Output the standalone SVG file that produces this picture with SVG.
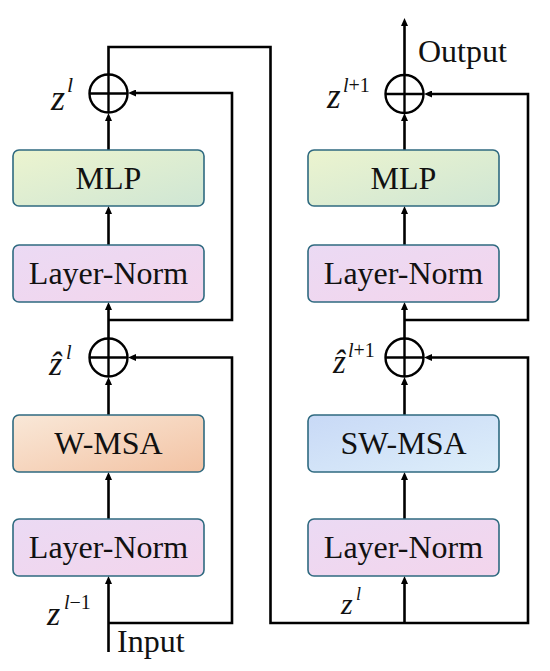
<svg xmlns="http://www.w3.org/2000/svg" width="550" height="671" viewBox="0 0 550 671">
<style>
.box{stroke:#2f6a80;stroke-width:1.6}
.lbl{font-family:"Liberation Serif","Times New Roman",serif;font-size:32px;fill:#111;text-anchor:middle}
.io{font-family:"Liberation Serif","Times New Roman",serif;font-size:32px;fill:#111}
.zi{font-family:"Liberation Serif","DejaVu Serif",serif;font-style:italic;fill:#111}
.ln{fill:none;stroke:#000;stroke-width:2.6;stroke-linejoin:miter}
.arr{fill:none;stroke:#000;stroke-width:2.6;marker-end:url(#ah)}
.sum{fill:none;stroke:#000;stroke-width:2.4}
</style>
<defs>
<marker id="ah" viewBox="0 0 8 7" refX="2" refY="3.5" markerWidth="8" markerHeight="7" markerUnits="userSpaceOnUse" orient="auto">
<path d="M0,0 L8,3.5 L0,7 z" fill="#000"/>
</marker>
<linearGradient id="gMLP" x1="0" y1="0" x2="1" y2="1"><stop offset="0" stop-color="#ecf4cf"/><stop offset="1" stop-color="#cfe6d4"/></linearGradient>
<linearGradient id="gLN" x1="0" y1="0" x2="1" y2="1"><stop offset="0" stop-color="#ebdaf4"/><stop offset="1" stop-color="#f3d5ec"/></linearGradient>
<linearGradient id="gW" x1="0" y1="0" x2="1" y2="1"><stop offset="0" stop-color="#f9e8d8"/><stop offset="1" stop-color="#f3c3a4"/></linearGradient>
<linearGradient id="gSW" x1="0" y1="0" x2="1" y2="1"><stop offset="0" stop-color="#c8d9f6"/><stop offset="1" stop-color="#ddeefa"/></linearGradient>
</defs>

<g id="connectors">
<!-- left column -->
<path class="arr" d="M108.5,652 V582"/>
<path class="arr" d="M108.5,519 V478"/>
<path class="arr" d="M108.5,415 V383"/>
<path class="arr" d="M108.5,338 V308"/>
<path class="arr" d="M108.5,245 V212"/>
<path class="arr" d="M108.5,150 V119"/>
<path class="arr" d="M108.5,623 H232 V357.5 H134"/>
<path class="arr" d="M108.5,320 H232 V93 H134"/>
<path class="arr" d="M108.5,74 V47 H270.5 V623 H528 V357.5 H430"/>
<!-- right column -->
<path class="arr" d="M404.5,623 V582"/>
<path class="arr" d="M404.5,519 V478"/>
<path class="arr" d="M404.5,415 V383"/>
<path class="arr" d="M404.5,338 V308"/>
<path class="arr" d="M404.5,245 V212"/>
<path class="arr" d="M404.5,150 V119"/>
<path class="arr" d="M404.5,320 H528 V94 H430"/>
<path class="arr" d="M404.5,75 V24"/>
</g>

<g id="sum-left-top"><circle class="sum" cx="108.5" cy="93.5" r="19"/><path class="sum" d="M89.5,93.5 H127.5 M108.5,74.5 V112.5"/></g>
<g id="sum-left-mid"><circle class="sum" cx="108.5" cy="357.5" r="19"/><path class="sum" d="M89.5,357.5 H127.5 M108.5,338.5 V376.5"/></g>
<g id="sum-right-top"><circle class="sum" cx="404.5" cy="94" r="19"/><path class="sum" d="M385.5,94 H423.5 M404.5,75 V113"/></g>
<g id="sum-right-mid"><circle class="sum" cx="404.5" cy="357.5" r="19"/><path class="sum" d="M385.5,357.5 H423.5 M404.5,338.5 V376.5"/></g>

<g id="mlp-left"><rect class="box" x="13" y="150" width="191" height="56" rx="6" fill="url(#gMLP)"/><text class="lbl" x="108.5" y="189">MLP</text></g>
<g id="ln2-left"><rect class="box" x="13" y="245" width="191" height="57" rx="6" fill="url(#gLN)"/><text class="lbl" x="108.5" y="284">Layer-Norm</text></g>
<g id="wmsa"><rect class="box" x="13" y="415" width="191" height="57" rx="6" fill="url(#gW)"/><text class="lbl" x="108.5" y="454">W-MSA</text></g>
<g id="ln1-left"><rect class="box" x="13" y="519" width="191" height="57" rx="6" fill="url(#gLN)"/><text class="lbl" x="108.5" y="558">Layer-Norm</text></g>

<g id="mlp-right"><rect class="box" x="308" y="150" width="191" height="56" rx="6" fill="url(#gMLP)"/><text class="lbl" x="403.5" y="189">MLP</text></g>
<g id="ln2-right"><rect class="box" x="308" y="245" width="191" height="57" rx="6" fill="url(#gLN)"/><text class="lbl" x="403.5" y="284">Layer-Norm</text></g>
<g id="swmsa"><rect class="box" x="308" y="415" width="191" height="57" rx="6" fill="url(#gSW)"/><text class="lbl" x="403.5" y="454">SW-MSA</text></g>
<g id="ln1-right"><rect class="box" x="308" y="519" width="191" height="57" rx="6" fill="url(#gLN)"/><text class="lbl" x="403.5" y="558">Layer-Norm</text></g>

<g id="labels">
<text class="io" x="418" y="62">Output</text>
<text class="io" x="117" y="652">Input</text>
<text class="zi" x="51" y="110" font-size="36">z</text><text class="zi" x="67" y="92" font-size="22">l</text>
<text class="zi" x="327" y="108" font-size="35">z</text><text class="zi" x="343" y="92" font-size="20">l<tspan font-style="normal">+1</tspan></text>
<text class="zi" x="49" y="375" font-size="34">ẑ</text><text class="zi" x="66" y="359" font-size="20">l</text>
<text class="zi" x="333" y="373" font-size="33">ẑ</text><text class="zi" x="348" y="357" font-size="20">l<tspan font-style="normal">+1</tspan></text>
<text class="zi" x="47" y="625" font-size="34">z</text><text class="zi" x="64" y="609" font-size="20">l<tspan font-style="normal">−1</tspan></text>
<text class="zi" x="341" y="614" font-size="30">z</text><text class="zi" x="356" y="600" font-size="18">l</text>
</g>
</svg>
